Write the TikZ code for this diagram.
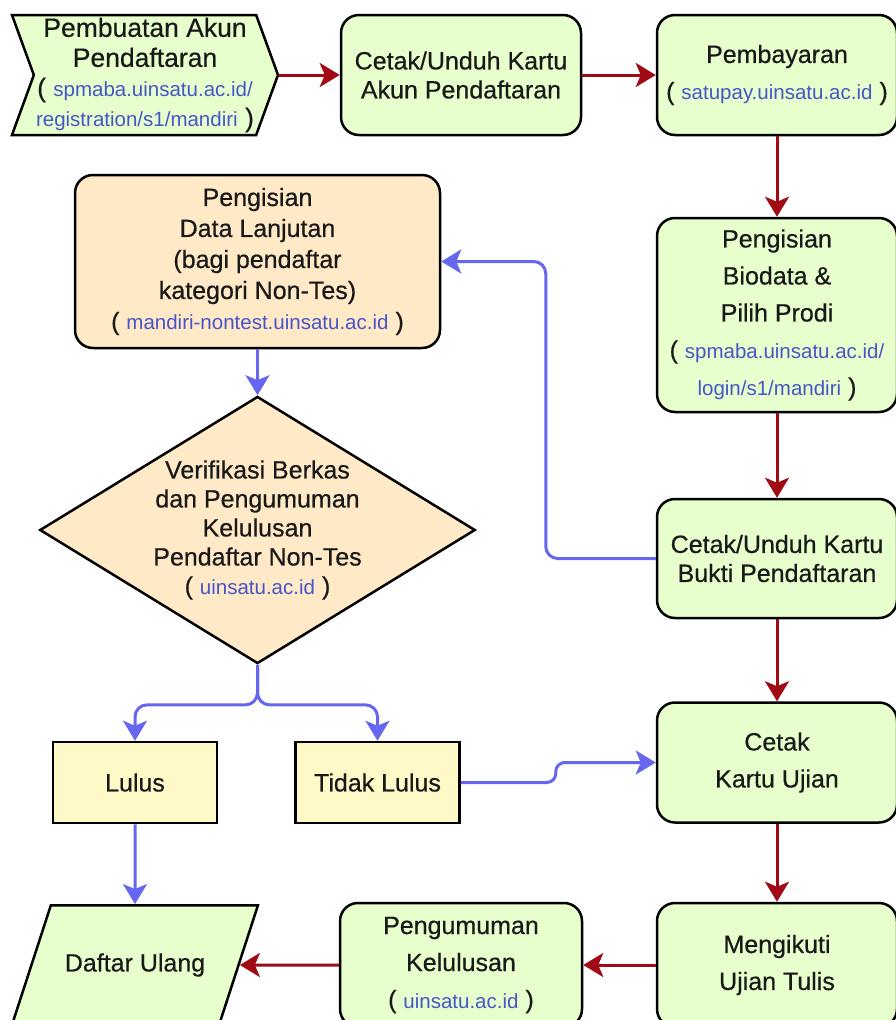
\documentclass[tikz,border=0pt]{standalone}
\usepackage{fontspec}
\setmainfont{Liberation Sans}[FakeBold=0.5]
\newfontfamily\linkfont{Liberation Sans}
\usetikzlibrary{shapes.geometric, shapes.symbols, arrows.meta}
\definecolor{boxgreen}{RGB}{230,255,204}
\definecolor{boxpeach}{RGB}{255,233,199}
\definecolor{boxyellow}{RGB}{255,249,200}
\definecolor{flowred}{RGB}{160,10,20}
\definecolor{flowblue}{RGB}{102,102,240}
\definecolor{linkblue}{RGB}{70,85,200}
\definecolor{textdark}{RGB}{25,25,25}
\newcommand{\weblink}[1]{{\linkfont\fontsize{20.5}{29}\selectfont\color{linkblue}#1}}
\tikzstyle{startstop} = [signal, signal from=west, signal to=east, signal pointer angle=140, minimum width=266pt, minimum height=120pt, inner sep=0pt, align=center, draw=black, line width=2.5pt, fill=boxgreen, text=textdark]
\tikzstyle{process} = [rectangle, rounded corners=18pt, minimum width=240pt, minimum height=120pt, align=center, draw=black, line width=2.5pt, fill=boxgreen, text=textdark]
\tikzstyle{extra} = [process, fill=boxpeach, minimum width=365pt, minimum height=173pt]
\tikzstyle{decision} = [diamond, aspect=1.63, minimum width=430pt, minimum height=264pt, inner sep=0pt, align=center, draw=black, line width=2.5pt, fill=boxpeach, text=textdark]
\tikzstyle{result} = [rectangle, minimum width=164pt, minimum height=81pt, align=center, draw=black, line width=2.5pt, fill=boxyellow, text=textdark]
\tikzstyle{io} = [trapezium, trapezium left angle=72, trapezium right angle=108, inner xsep=14pt, inner ysep=48pt, align=center, draw=black, line width=2.5pt, fill=boxgreen, text=textdark]
\tikzstyle{loose} = [font=\fontsize{25}{37}\selectfont]
\tikzstyle{arrow} = [line width=3pt, flowred, -{Stealth[length=20pt,width=24pt,inset=5pt]}]
\tikzstyle{backarrow} = [line width=3pt, flowblue, rounded corners=12pt, -{Stealth[length=20pt,width=24pt,inset=5pt]}]

\begin{document}
\begin{tikzpicture}[x=1pt, y=-1pt, every node/.style={font=\fontsize{25}{29}\selectfont}]
    \useasboundingbox[fill=white] (0,0) rectangle (896,1020);
    \clip (0,0) rectangle (896,1020);

    \node (register) [startstop, font=\fontsize{26.5}{30}\selectfont] at (145,75) {Pembuatan Akun\\Pendaftaran\\( \weblink{spmaba.uinsatu.ac.id/}\\\weblink{registration/s1/mandiri} )};
    \node (cardreg) [process, node distance=316pt, right of=register] {Cetak/Unduh Kartu\\Akun Pendaftaran};
    \node (payment) [process, loose, node distance=316pt, right of=cardreg] {Pembayaran\\( \weblink{satupay.uinsatu.ac.id} )};
    \node (biodata) [process, loose, minimum height=194pt, node distance=240pt, below of=payment] {Pengisian\\Biodata \&\\Pilih Prodi\\( \weblink{spmaba.uinsatu.ac.id/}\\\weblink{login/s1/mandiri} )};
    \node (proof) [process, minimum height=119pt, node distance=243.5pt, below of=biodata] {Cetak/Unduh Kartu\\Bukti Pendaftaran};
    \node (examcard) [process, loose, node distance=204pt, below of=proof] {Cetak\\Kartu Ujian};
    \node (exam) [process, loose, minimum height=124pt, node distance=202.5pt, below of=examcard] {Mengikuti\\Ujian Tulis};
    \node (announce) [process, loose, minimum width=242pt, minimum height=124pt, node distance=316pt, left of=exam] {Pengumuman\\Kelulusan\\( \weblink{uinsatu.ac.id} )};
    \node (reregister) [io, node distance=326pt, left of=announce] {Daftar Ulang};

    \node (nontest) [extra, font=\fontsize{25}{31}\selectfont] at (257.5,261.5) {Pengisian\\Data Lanjutan\\(bagi pendaftar\\kategori Non-Tes)\\( \weblink{mandiri-nontest.uinsatu.ac.id} )};
    \node (verify) [decision, node distance=268.5pt, below of=nontest] {Verifikasi Berkas\\dan Pengumuman\\Kelulusan\\Pendaftar Non-Tes\\( \weblink{uinsatu.ac.id} )};
    \node (pass) [result] at (135,782.5) {Lulus};
    \node (fail) [result, node distance=242.5pt, right of=pass] {Tidak Lulus};

    % Arrows for main path
    \draw [arrow] (register.east) -- (cardreg.west);
    \draw [arrow] (cardreg.east) -- (payment.west);
    \draw [arrow] (payment.south) -- (biodata.north);
    \draw [arrow] (biodata.south) -- (proof.north);
    \draw [arrow] (proof.south) -- (examcard.north);
    \draw [arrow] (examcard.south) -- (exam.north);
    \draw [arrow] (exam.west) -- (announce.east);
    \draw [arrow] (announce.west) -- (reregister.east);

    % Non-Tes path
    \draw [backarrow] (proof.west) -- ++(-110,0) |- (nontest.east);
    \draw [backarrow] (nontest.south) -- (verify.north);
    \draw [backarrow] (verify.south) -- ++(0,40) -| (pass.north);
    \draw [backarrow] (verify.south) -- ++(0,40) -| (fail.north);
    \draw [backarrow] (pass.south) -- (reregister.north);
    \draw [backarrow, rounded corners=9pt] (fail.east) -- ++(95,0) |- (examcard.west);
\end{tikzpicture}
\end{document}
